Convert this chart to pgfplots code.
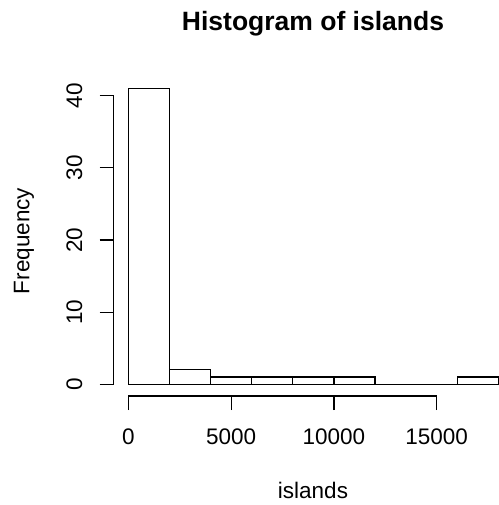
\documentclass[border=0pt]{standalone}
\usepackage{pgfplots}
\pgfplotsset{compat=1.18}
\usepackage{fontspec}
\setmainfont{Liberation Sans}

\begin{document}
\fontsize{22.5bp}{27bp}\selectfont
\begin{tikzpicture}[x=1bp,y=1bp]
\useasboundingbox (0,0) rectangle (499,505);
\begin{axis}[
  at={(113.5bp,108.9bp)}, anchor=south west,
  scale only axis, width=399.7bp, height=319.4bp,
  xmin=-720, xmax=18720, ymin=-1.64, ymax=42.64,
  separate axis lines,
  axis x line*=bottom, axis y line*=left,
  axis line style={draw=none},
  xtick={0,5000,10000,15000}, ytick={0,10,20,30,40},
  minor tick num=0,
  tick align=outside, major tick length=14bp,
  tick style={black, line width=1.2bp},
  scaled x ticks=false,
  /pgf/number format/assume math mode=true,
  /pgf/number format/1000 sep={},
  ticklabel style={font=\fontsize{22.5bp}{27bp}\selectfont, inner sep=0pt},
  xticklabel style={anchor=base, yshift=-34.9bp},
  yticklabel style={anchor=base, xshift=-17.5bp, rotate=90},
  clip=false,
]
% axis lines run only from the first to the last tick
\draw[line width=1.2bp] (axis cs:0,-1.64) -- (axis cs:15000,-1.64);
\draw[line width=1.2bp] (axis cs:-720,0) -- (axis cs:-720,40);
% histogram counts, bins of width 2000
\addplot[ybar interval, fill=white, draw=black, line width=1.2bp] coordinates {
  (0,41) (2000,2) (4000,1) (6000,1) (8000,1) (10000,1)
  (12000,0) (14000,0) (16000,1) (18000,1)
};
\end{axis}
\node[anchor=base, font=\fontsize{26.5bp}{32bp}\selectfont\bfseries] at (313,474.3) {Histogram of islands};
\node[anchor=base, inner sep=0pt] at (313,6.7) {islands};
\node[anchor=base, inner sep=0pt, rotate=90] at (29.3,264) {Frequency};
\end{tikzpicture}
\end{document}
